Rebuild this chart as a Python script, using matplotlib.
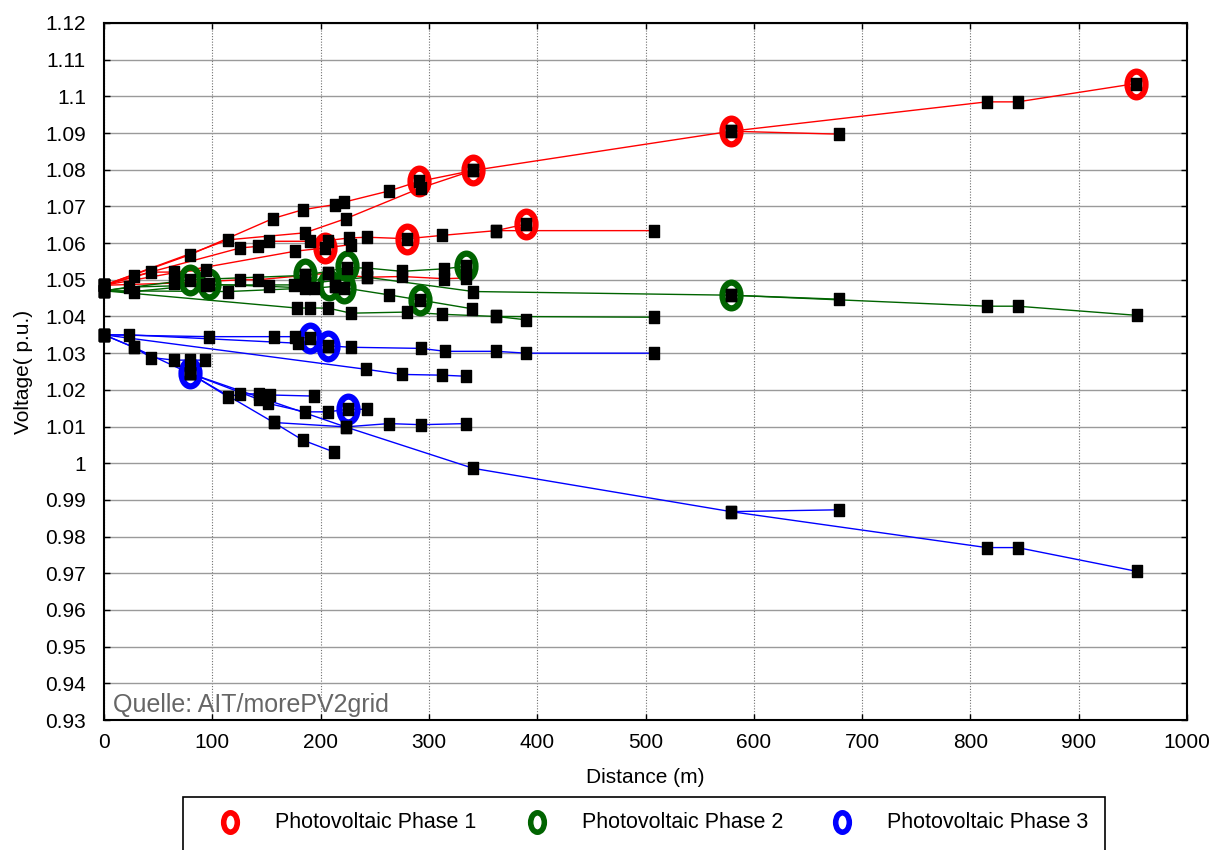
import numpy as np
import matplotlib.pyplot as plt
from matplotlib.path import Path
from matplotlib.transforms import Affine2D
from matplotlib.lines import Line2D
from matplotlib.patches import Rectangle

plt.rcParams['font.family'] = ['Liberation Sans Narrow', 'Liberation Sans', 'DejaVu Sans']

# feeder paths per phase: distance (m) and voltage (p.u.)
red_d = [
    [0, 79.2, 156, 183.5, 213, 222, 262.9, 290.6, 340.7, 579, 815, 843.6, 953],
    [579, 679],
    [0, 114.6, 185.4, 223.5, 292.8, 340.7],
    [0, 27.5, 126, 142, 152, 190.6, 206.6, 226, 243, 280, 312, 362, 508],
    [362, 389.6],
    [0, 176.7, 204.4, 228.4],
    [0, 64.8, 126, 142, 185.4, 206.6, 243, 275, 314, 334.6],
    [0, 43.8, 64.8, 94.6],
]
red_v = [
    [1.0485, 1.0568, 1.0667, 1.0691, 1.0705, 1.0712, 1.0742, 1.0768, 1.0798, 1.0905, 1.0985, 1.0985, 1.1035],
    [1.0905, 1.0897],
    [1.0485, 1.0609, 1.0628, 1.0667, 1.0751, 1.0798],
    [1.0485, 1.0509, 1.0587, 1.0591, 1.0605, 1.0605, 1.0607, 1.0614, 1.0616, 1.0612, 1.0621, 1.0634, 1.0634],
    [1.0634, 1.0652],
    [1.0485, 1.0578, 1.0587, 1.0596],
    [1.0485, 1.0491, 1.0500, 1.0500, 1.0512, 1.0518, 1.0507, 1.0509, 1.0503, 1.0505],
    [1.0485, 1.0521, 1.0521, 1.0527],
]
red_pv_d = [290.6, 340.7, 204.4, 280, 389.6, 579, 953]
red_pv_v = [1.0769, 1.0798, 1.0587, 1.0612, 1.0652, 1.0905, 1.1035]

green_d = [
    [0, 79.2, 185.4, 224.5, 243, 275, 314, 334.6],
    [0, 27.5, 96.7, 152, 193.7, 213, 221.3],
    [0, 23, 94.6, 175, 243, 341, 579, 815, 843.6, 954],
    [579, 679],
    [213, 262.9, 291.5, 339.8],
    [0, 178, 190.6, 206.6, 228, 280, 312, 362, 508],
    [362, 389.6],
    [0, 114.6, 185.4, 206.6],
]
green_v = [
    [1.047, 1.0500, 1.0512, 1.0533, 1.0532, 1.0523, 1.0530, 1.0537],
    [1.047, 1.0468, 1.0488, 1.0482, 1.0477, 1.0482, 1.0477],
    [1.047, 1.0480, 1.0486, 1.0486, 1.0507, 1.0468, 1.0458, 1.0428, 1.0428, 1.0403],
    [1.0458, 1.0447],
    [1.0482, 1.0459, 1.0445, 1.0421],
    [1.047, 1.0423, 1.0423, 1.0423, 1.0409, 1.0412, 1.0406, 1.0400, 1.0398],
    [1.0400, 1.0391],
    [1.047, 1.0468, 1.0477, 1.0518],
]
green_pv_d = [79.2, 96.7, 185.4, 207.5, 221.3, 224.5, 334.6, 291.5, 579]
green_pv_v = [1.0500, 1.0488, 1.0515, 1.0486, 1.0477, 1.0537, 1.0537, 1.0445, 1.0458]

blue_d = [
    [0, 96.7, 156.7, 176, 190.6],
    [0, 23, 179, 206.6, 228.4, 292.8, 315, 362, 389.6, 508],
    [0, 242, 275, 312, 334.6],
    [0, 27.5, 43.8, 64.8, 79.2, 93.7],
    [0, 27.5, 79.2, 114.6, 126, 142.9, 153.7, 193.7],
    [79.2, 142.9, 151.5, 185.4, 206.6, 225.4, 243],
    [79.2, 156.7, 223, 263, 292.8, 334.6],
    [156.7, 183.5, 212],
    [79.2, 223, 341, 579, 815, 843.6, 954],
    [579, 679],
]
blue_v = [
    [1.035, 1.0345, 1.0345, 1.0345, 1.0341],
    [1.035, 1.0350, 1.0327, 1.0320, 1.0316, 1.0313, 1.0305, 1.0305, 1.0300, 1.0300],
    [1.035, 1.0256, 1.0242, 1.0240, 1.0237],
    [1.035, 1.0316, 1.0288, 1.0281, 1.0281, 1.0281],
    [1.035, 1.0316, 1.0245, 1.0181, 1.0189, 1.0189, 1.0186, 1.0183],
    [1.0245, 1.0174, 1.0163, 1.0140, 1.0140, 1.0147, 1.0147],
    [1.0245, 1.0111, 1.0099, 1.0108, 1.0105, 1.0108],
    [1.0111, 1.0063, 1.0031],
    [1.0245, 1.0099, 0.9986, 0.9868, 0.9770, 0.9770, 0.9705],
    [0.9868, 0.9873],
]
blue_pv_d = [190.6, 206.6, 79.2, 225.4]
blue_pv_v = [1.0341, 1.0320, 1.0245, 1.0147]

phase_labels = ['Photovoltaic Phase 1', 'Photovoltaic Phase 2', 'Photovoltaic Phase 3']

# marker shapes: tall "O" for PV, small block for nodes
pv_marker = Path.unit_circle().transformed(Affine2D().scale(0.7, 1.0))
node_marker = Path.unit_rectangle().transformed(Affine2D().translate(-0.5, -0.5).scale(0.85, 1.0))

fig = plt.figure(figsize=(12.12, 8.5), dpi=100)
ax = fig.add_axes([104 / 1212, 1 - 720 / 850, 1083 / 1212, 697 / 850])

phases = [
    (red_d, red_v, red_pv_d, red_pv_v, '#ff0000'),
    (green_d, green_v, green_pv_d, green_pv_v, '#006400'),
    (blue_d, blue_v, blue_pv_d, blue_pv_v, '#0000ff'),
]

for ds, vs, pd_, pv_, col in phases:
    for d, v in zip(ds, vs):
        ax.plot(d, v, color=col, lw=1.0, zorder=3)
    ax.plot(pd_, pv_, ls='none', marker=pv_marker, ms=18.5, mfc='none',
            mec=col, mew=4.5, zorder=4, clip_on=False)

for ds, vs, pd_, pv_, col in phases:
    for d, v in zip(ds, vs):
        ax.plot(d, v, ls='none', marker=node_marker, ms=8.5, color='black',
                zorder=5, clip_on=False)

ax.set_xlim(0, 1000)
ax.set_ylim(0.93, 1.12)
ax.set_xticks(np.arange(0, 1001, 100))
yt = np.round(np.arange(0.93, 1.1201, 0.01), 2)
ax.set_yticks(yt)
ax.set_yticklabels(['%g' % t for t in yt])

ax.yaxis.grid(True, color='#9a9a9a', lw=1.0, ls='-')
ax.xaxis.grid(True, color='#707070', lw=0.8, ls=(0, (1, 1.5)))
ax.set_axisbelow(True)
ax.tick_params(direction='in', top=True, right=True, length=4, width=1,
               labelsize=15)
ax.tick_params(axis='x', pad=9)
ax.tick_params(axis='y', pad=13)
for s in ax.spines.values():
    s.set_linewidth(1.5)

ax.set_xlabel('Distance (m)', fontsize=15, labelpad=12)
ax.set_ylabel('Voltage( p.u.)', fontsize=15, labelpad=9)

ax.text(0.008, 0.011, 'Quelle: AIT/morePV2grid', transform=ax.transAxes,
        fontsize=18, color='#666666', family=['Liberation Sans', 'DejaVu Sans'],
        zorder=6)

# legend box along the bottom edge
fig.add_artist(Rectangle((183 / 1212, -0.02), (1105 - 183) / 1212, 0.02 + 53 / 850,
                         transform=fig.transFigure, fill=False, ec='black', lw=1.2))
cols = ['#ff0000', '#006400', '#0000ff']
mx = [230, 537, 842]
for lab, c, x in zip(phase_labels, cols, mx):
    fig.add_artist(Line2D([x / 1212], [1 - 822 / 850], transform=fig.transFigure,
                          ls='none', marker=pv_marker, ms=14, mfc='none', mec=c, mew=4))
    fig.text((x + 45) / 1212, 1 - 822 / 850, lab, fontsize=15.5, va='center', ha='left')

fig.savefig('out.png', dpi=100)
